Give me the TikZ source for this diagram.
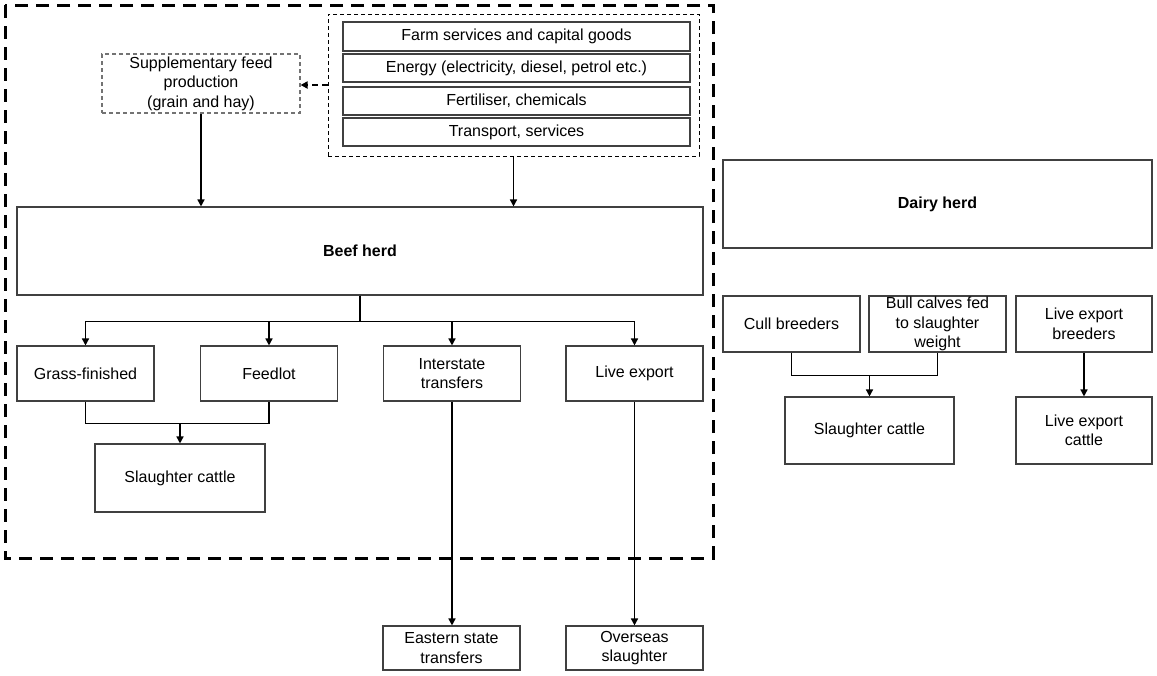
\documentclass[tikz,border=0pt]{standalone}
\usepackage{fontspec}
\setmainfont{Liberation Sans}
\usetikzlibrary{arrows.meta}
\begin{document}
\begin{tikzpicture}[x=1pt,y=-1pt,>={Triangle[length=7pt,width=7pt]}]
\useasboundingbox (0,0) rectangle (1157,675);
\tikzstyle{box} = [draw=black!75, line width=1.1pt, align=center, inner sep=0pt, font=\fontsize{16}{19.5}\selectfont];
\tikzstyle{row} = [box, minimum width=347pt, minimum height=29pt];
\tikzstyle{small} = [box, minimum width=137pt, minimum height=55pt];
\tikzstyle{herd} = [box, font=\fontsize{16}{19.5}\selectfont\bfseries, minimum height=88pt];
\tikzstyle{dashbox} = [draw, line width=1pt, dash pattern=on 4pt off 3pt];
\tikzstyle{feedbox} = [box, draw=black!55, dash pattern=on 4pt off 3pt];
\tikzstyle{flow} = [->, line width=1.5pt];
\draw[line width=3pt, dash pattern=on 13pt off 8pt] (5,5) rectangle (713,558);

\node[dashbox, minimum width=371pt, minimum height=142pt] (inputs) at (513.5,85) {};
\node[row] (farm) at (516.5,36.5) {Farm services and capital goods};
\node[row, minimum height=28pt] (energy) at (516.5,68) {Energy (electricity, diesel, petrol etc.)};
\node[row, minimum height=28pt] (fert) at (516.5,101) {Fertiliser, chemicals};
\node[row, minimum height=28pt] (transp) at (516.5,132) {Transport, services};
\node[feedbox, minimum width=198pt, minimum height=59pt] (supp) at (201,83.5) {Supplementary feed\\production\\(grain and hay)};
\draw[flow, line width=1.8pt, dash pattern=on 6pt off 4pt] (inputs.west) -- (inputs.west -| supp.east);

\node[herd, minimum width=686pt] (beef) at (360,251) {Beef herd};
\draw[flow] (supp.south) -- (supp.south |- beef.north);
\draw[flow] (inputs.south) -- (inputs.south |- beef.north);

\node[small] (grass) at (85.5,373.5) {Grass-finished};
\node[small] (feedlot) at (269,373.5) {Feedlot};
\node[small] (inter) at (452,373.5) {Interstate\\transfers};
\node[small] (livex) at (634.5,373.5) {Live export};
\draw[flow] (beef.south) -- ++(0,26) -| (grass.north);
\draw[flow] (beef.south) -- ++(0,26) -| (feedlot.north);
\draw[flow] (beef.south) -- ++(0,26) -| (inter.north);
\draw[flow] (beef.south) -- ++(0,26) -| (livex.north);

\node[box, minimum width=170pt, minimum height=68pt] (slaughter) at (180,478) {Slaughter cattle};
\coordinate (joinA) at (180,423);
\draw[line width=1.5pt] (grass.south) -- ++(0,22) -| (feedlot.south);
\draw[flow] (joinA) -- (slaughter.north);

\node[small, minimum height=44pt] (eastern) at (451.5,648) {Eastern state\\transfers};
\node[small, minimum height=44pt] (overseas) at (634.5,648) {Overseas\\slaughter};
\draw[flow] (inter.south) -- (inter.south |- eastern.north);
\draw[flow] (livex.south) -- (livex.south |- overseas.north);

%
\node[herd, minimum width=429pt] (dairy) at (937.5,204) {Dairy herd};
\node[small, minimum height=56pt] (cull) at (791.5,324) {Cull breeders};
\node[small, minimum height=56pt] (bull) at (937.5,324) {Bull calves fed\\to slaughter\\weight};
\node[small, minimum width=136pt, minimum height=56pt] (lxbreed) at (1084,324) {Live export\\breeders};

\node[box, minimum width=169pt, minimum height=67pt] (slaughterb) at (869.5,430.5) {Slaughter cattle};
\coordinate (joinB) at (869.5,375);
\draw[line width=1.5pt] (cull.south) -- ++(0,23) -| (bull.south);
\draw[flow] (joinB) -- (slaughterb.north);

\node[box, minimum width=136pt, minimum height=67pt] (lxcattle) at (1084,430.5) {Live export\\cattle};
\draw[flow] (lxbreed.south) -- (lxcattle.north);
\end{tikzpicture}
\end{document}
